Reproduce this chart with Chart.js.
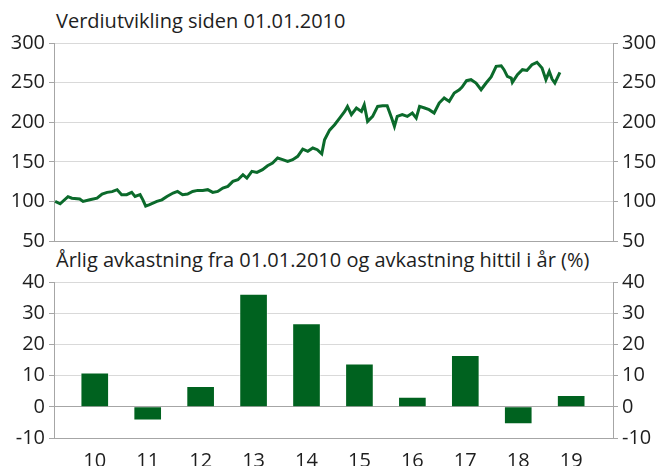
<!DOCTYPE html>
<html>
<head>
<meta charset="utf-8">
<script src="https://cdn.jsdelivr.net/npm/chart.js@4.4.1/dist/chart.umd.min.js"></script>
<style>
  body { margin: 0; width: 660px; height: 466px; overflow: hidden; background: #fff; }
  canvas { position: absolute; left: 0; top: 0; }
  .title { position: absolute; left: 56px; font-family: "Open Sans", sans-serif; font-size: 20px; line-height: 20px; color: #1e1e1e; white-space: nowrap; }
</style>
</head>
<body>
<div class="title" style="top:11px">Verdiutvikling siden 01.01.2010</div>
<div class="title" style="top:250px">Årlig avkastning fra 01.01.2010 og avkastning hittil i år (%)</div>
<canvas id="bottomChart" width="660" height="466"></canvas>
<canvas id="topChart" width="660" height="466"></canvas>
<script>
// Verdiutvikling (indeks, 01.01.2010 = 100), lest av bildet
const lineYears = [
  2010.02, 2010.11, 2010.25, 2010.32, 2010.46, 2010.52, 2010.64, 2010.77, 2010.86, 2010.95,
  2011.04, 2011.13, 2011.21, 2011.30, 2011.39, 2011.45, 2011.54, 2011.59, 2011.64, 2011.71,
  2011.84, 2011.93, 2012.02, 2012.13, 2012.21, 2012.30, 2012.39, 2012.48, 2012.57, 2012.66,
  2012.75, 2012.84, 2012.93, 2013.02, 2013.11, 2013.20, 2013.29, 2013.38, 2013.45, 2013.54,
  2013.63, 2013.73, 2013.82, 2013.91, 2014.00, 2014.09, 2014.18, 2014.27, 2014.36, 2014.45,
  2014.54, 2014.63, 2014.71, 2014.79, 2014.84, 2014.93, 2015.02, 2015.11, 2015.20, 2015.25,
  2015.32, 2015.41, 2015.50, 2015.55, 2015.61, 2015.70, 2015.79, 2015.88, 2015.96, 2016.04,
  2016.09, 2016.14, 2016.23, 2016.32, 2016.41, 2016.48, 2016.54, 2016.63, 2016.71, 2016.80,
  2016.89, 2016.98, 2017.07, 2017.16, 2017.25, 2017.30, 2017.38, 2017.46, 2017.55, 2017.64,
  2017.73, 2017.82, 2017.91, 2018.00, 2018.05, 2018.11, 2018.18, 2018.20, 2018.29, 2018.38,
  2018.46, 2018.55, 2018.64, 2018.73, 2018.80, 2018.86, 2018.91, 2018.96, 2019.05
];
const lineValues = [
  100, 97, 106, 104, 103, 100, 102, 104, 109.3, 111.4,
  112.3, 114.8, 108.5, 108.5, 111.4, 106.3, 108.5, 102, 94, 96,
  100, 102, 106.3, 110.6, 112.6, 108.5, 109.3, 112.6, 113.9, 113.9,
  114.8, 111.4, 112.6, 116.9, 118.9, 125.3, 127.4, 133.7, 129.5, 137.9,
  136.6, 140, 145, 148.5, 154.8, 152.7, 150.5, 152.7, 156.9, 166,
  163.2, 167.4, 165.3, 160, 177.9, 190, 196.8, 205.2, 213.6, 219.9,
  209.5, 217.9, 213.6, 222, 201, 207.3, 219.9, 220.8, 220.8, 205.2,
  194.7, 207.3, 209.5, 207.3, 211.6, 205.2, 219.9, 217.9, 215.8, 211.6,
  224.2, 230.6, 226.3, 236.9, 241, 244.4, 252.4, 253.7, 249.5, 241,
  249.5, 257.1, 270.5, 271.3, 266.3, 257.8, 255.8, 250.3, 260, 266.3,
  265.4, 272.6, 275.6, 268.4, 253.7, 264.1, 254.5, 249.5, 262.9
];
const lineTicks = [50, 100, 150, 200, 250, 300];

// Årlig avkastning (%)
const barYears = [10, 11, 12, 13, 14, 15, 16, 17, 18, 19];
const barReturns = [10.9, -4.3, 6.6, 36.1, 26.7, 13.8, 3.1, 16.5, -5.5, 3.7];
const barTicks = [-10, 0, 10, 20, 30, 40];

const green = '#0b6a2b';
const barGreen = '#00621f';
const gridColor = '#d9d9d9';
const axisColor = '#a6a6a6';
const tickFont = { family: 'Open Sans', size: 20 };
const tickColor = '#1e1e1e';

function fixWidth(w) {
    return scale => { scale.width = w; };
}

function yAxis(ticks, base, side) {
    return {
        type: 'linear',
        position: side,
        min: ticks[0],
        max: ticks[ticks.length - 1],
        afterBuildTicks: s => { s.ticks = ticks.map(v => ({ value: v })); },
        afterFit: fixWidth(side === 'left' ? 54 : 47),
        border: { display: true, color: axisColor, width: 1 },
        grid: {
            drawOnChartArea: side === 'left',
            color: ctx => (ctx.tick && (ctx.tick.value === base || ctx.tick.value === ticks[0])) ? axisColor : gridColor,
            tickLength: 5,
            tickColor: axisColor
        },
        ticks: { font: tickFont, color: tickColor, padding: 4 }
    };
}

// Øverste figur: linje
new Chart(document.getElementById('topChart'), {
    type: 'line',
    data: {
        datasets: [{
            data: lineYears.map((x, i) => ({ x: x, y: lineValues[i] })),
            borderColor: green,
            borderWidth: 3,
            pointRadius: 0,
            tension: 0
        }]
    },
    options: {
        responsive: false,
        animation: false,
        layout: { padding: { top: 43, bottom: 225, left: 0, right: 0 } },
        plugins: { legend: { display: false }, tooltip: { enabled: false } },
        scales: {
            x: { type: 'linear', min: 2010, max: 2020, display: false },
            y: yAxis(lineTicks, 50, 'left'),
            y2: yAxis(lineTicks, 50, 'right')
        }
    }
});

// Nederste figur: stolper
new Chart(document.getElementById('bottomChart'), {
    type: 'bar',
    data: {
        datasets: [{
            data: barYears.map((x, i) => ({ x: x, y: barReturns[i] })),
            backgroundColor: barGreen,
            borderColor: 'rgba(255,255,255,0.5)',
            borderWidth: 1,
            barThickness: 28
        }]
    },
    options: {
        responsive: false,
        animation: false,
        layout: { padding: { top: 282, bottom: 0, left: 0, right: 0 } },
        plugins: { legend: { display: false }, tooltip: { enabled: false } },
        scales: {
            x: {
                type: 'linear',
                offset: false,
                min: 9.23,
                max: 19.79,
                afterBuildTicks: s => { s.ticks = barYears.map(v => ({ value: v })); },
                afterFit: scale => { scale.height = 28; },
                border: { display: true, color: axisColor, width: 1 },
                grid: { offset: false, drawOnChartArea: false, drawTicks: false },
                ticks: { font: tickFont, color: tickColor, padding: 11, maxRotation: 0, autoSkip: false }
            },
            y: yAxis(barTicks, 0, 'left'),
            y2: yAxis(barTicks, 0, 'right')
        }
    }
});
</script>
</body>
</html>
